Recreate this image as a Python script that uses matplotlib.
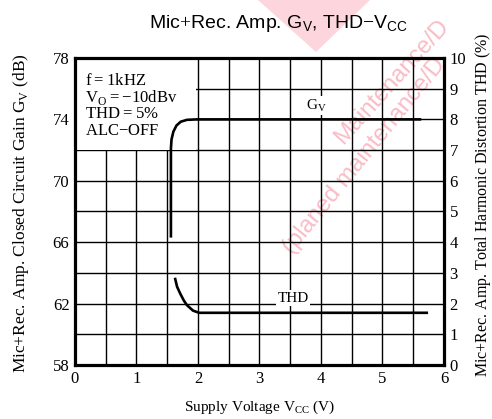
import matplotlib.pyplot as plt
from matplotlib.patches import Rectangle, Polygon

plt.rcParams['font.family'] = 'Liberation Serif'
plt.rcParams['mathtext.fontset'] = 'custom'
plt.rcParams['mathtext.rm'] = 'Liberation Serif'
plt.rcParams['mathtext.sf'] = 'Liberation Sans'

# Gv curve (dB) vs supply voltage
gv_vcc = [1.56, 1.56, 1.57, 1.60, 1.65, 1.72, 1.82, 1.98, 5.63]
gv_db = [66.3, 72.1, 72.7, 73.2, 73.6, 73.85, 73.97, 74.0, 74.0]

# THD curve (%) vs supply voltage
thd_vcc = [1.63, 1.66, 1.71, 1.77, 1.82, 1.92, 2.02, 5.72]
thd_pct = [2.80, 2.55, 2.33, 2.10, 1.95, 1.77, 1.70, 1.70]

x_ticks = [0, 1, 2, 3, 4, 5, 6]
gv_ticks = [58, 62, 66, 70, 74, 78]
thd_ticks = list(range(0, 11))

conditions = ["f$=$1kHZ", "V$_\\mathrm{O}$$=-$10dBv", "THD$=$5%", "ALC$-$OFF"]

fig = plt.figure(figsize=(4.92, 4.19), dpi=100)

# faint watermark behind the chart
wm = '#f9bcc6'
fig.patches.append(Polygon([(258 / 492, 1.0), (370 / 492, 1.0), (316 / 492, 1 - 52 / 419)],
                           closed=True, transform=fig.transFigure, facecolor='#fcd6dc',
                           edgecolor='none', zorder=-2))
fig.text(343 / 492, 1 - 145 / 419, "Maintenance/D", color=wm, fontsize=17,
         rotation=48, rotation_mode='anchor', ha='left', va='baseline',
         family='Liberation Sans', zorder=-1)
fig.text(292 / 492, 1 - 255 / 419, "(planed maintenance/D", color=wm, fontsize=17,
         rotation=51, rotation_mode='anchor', ha='left', va='baseline',
         family='Liberation Sans', zorder=-1)

ax = fig.add_axes([0.1524, 0.1289, 0.75, 0.7327])
ax.patch.set_visible(False)

ax.set_xlim(0, 6)
ax.set_ylim(58, 78)

# grid every 0.5 V / 2 dB
for x in [i * 0.5 for i in range(1, 12)]:
    ax.axvline(x, color='black', lw=1.0, zorder=1)
for y in range(60, 78, 2):
    ax.axhline(y, color='black', lw=1.0, zorder=1)

# blank area behind the test conditions
ax.add_patch(Rectangle((0, 72), 1.96, 6, facecolor='white', edgecolor='none', zorder=2))

ax.plot(gv_vcc, gv_db, color='black', lw=1.9, zorder=4, solid_capstyle='butt')

ax.set_xticks(x_ticks)
ax.set_yticks(gv_ticks)
ax.tick_params(length=0, labelsize=12, pad=4)
for s in ax.spines.values():
    s.set_linewidth(2.3)
    s.set_zorder(5)

ax.set_xlabel("Supply Voltage V$_\\mathrm{CC}$ (V)", fontsize=11, labelpad=9)

ax.text(3.93, 74.9, "G$_\\mathrm{V}$", fontsize=11, ha='center', va='center', zorder=3,
        bbox=dict(facecolor='white', edgecolor='none', pad=1))

for i, line in enumerate(conditions):
    ax.text(0.17, 76.5 - i * 1.08, line, fontsize=12, ha='left', va='center', zorder=3)

ax2 = ax.twinx()
ax2.patch.set_visible(False)
ax2.set_ylim(0, 10)
ax2.set_yticks(thd_ticks)
ax2.tick_params(length=0, labelsize=12, pad=4)
for s in ax2.spines.values():
    s.set_visible(False)
ax2.plot(thd_vcc, thd_pct, color='black', lw=1.9, zorder=4)
ax2.text(3.55, 2.18, "THD", fontsize=11, ha='center', va='center', zorder=3,
         bbox=dict(facecolor='white', edgecolor='none', pad=1))

fig.text(21 / 492, 1 - 213 / 419, "Mic$+$Rec. Amp. Closed Circuit Gain G$_\\mathrm{V}$ (dB)",
         fontsize=12.5, rotation=90, ha='center', va='center')
fig.text(483 / 492, 1 - 205 / 419, "Mic$+$Rec. Amp. Total Harmonic Distortion THD (%)",
         fontsize=11.5, rotation=90, ha='center', va='center')

fig.text(0.567, 0.945, "Mic$+$Rec. Amp. G$_\\mathsf{V}$, THD$-$V$_\\mathsf{CC}$",
         family='Liberation Sans', fontsize=14, ha='center', va='center')

fig.savefig('out.png', dpi=100)
